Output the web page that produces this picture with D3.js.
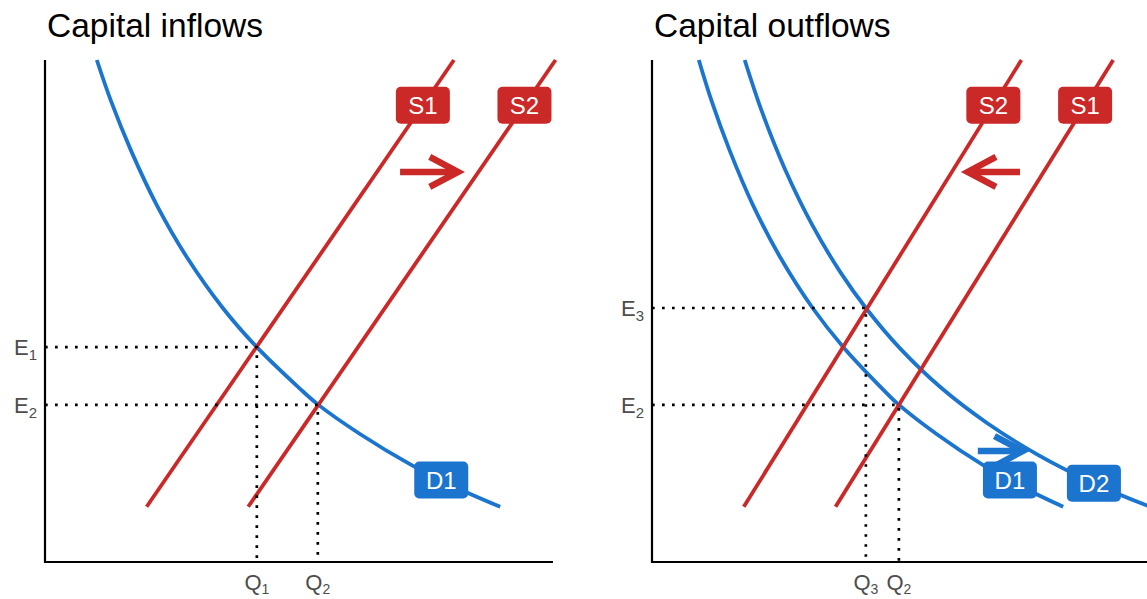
<!DOCTYPE html>
<html>
<head>
<meta charset="utf-8">
<script src="https://cdn.jsdelivr.net/npm/d3@7"></script>
<style>
  html, body { margin: 0; padding: 0; background: #fff; }
  svg { display: block; font-family: "Liberation Sans", Arial, sans-serif; }
</style>
</head>
<body>
<svg id="chart" width="1147" height="599"></svg>
<script>
// ---------- data ----------
const titles = ["Capital inflows", "Capital outflows"];

// demand curves (x = quantity, y = exchange rate)
const demand1 = [[1.02,10.0],[1.30,9.18],[1.70,8.18],[2.20,7.11],[2.80,6.06],[3.50,5.06],[4.17,4.28],
  [5.00,3.47],[5.37,3.14],[6.20,2.55],[7.20,1.94],[8.10,1.48],[8.96,1.10]];
const demand2 = [[2.02,10.0],[2.40,8.96],[2.90,7.82],[3.50,6.70],[4.10,5.78],[4.66,5.06],[5.40,4.26],
  [6.30,3.47],[7.30,2.77],[8.40,2.14],[9.60,1.58],[10.80,1.12],[11.07,1.03]];

// supply lines
const supplyLow  = [[2.00,1.10],[8.05,10]];
const supplyHigh = [[4.00,1.10],[10.05,10]];

// equilibria
const eqInflows  = [{e:"1", q:"1", x:4.17, y:4.28}, {e:"2", q:"2", x:5.37, y:3.13}];
const eqOutflows = [{e:"3", q:"3", x:4.66, y:5.06}, {e:"2", q:"2", x:5.38, y:3.13}];

// curve labels
const supplyLabelY = 9.10;
const demandLabelX = [7.80, 9.63];

// shift arrows [x1, x2, y]
const arrowInflowS  = [6.99, 8.13, 7.77];
const arrowOutflowS = [8.02, 6.88, 7.77];
const arrowOutflowD = [7.10, 8.08, 2.21];

// ---------- layout ----------
const BLUE = "#1b75cf", RED = "#cb2828";
const svg = d3.select("#chart");

const panels = [
  { x0: 45,  x1: 553,  xmax: 10.0 },
  { x0: 652, x1: 1160, xmax: 11.07 }
];
const yTop = 60, yBot = 562;

function makeScales(p) {
  return {
    x: d3.scaleLinear().domain([0, p.xmax]).range([p.x0, p.x1]),
    y: d3.scaleLinear().domain([0, 10]).range([yBot, yTop])
  };
}

function yOnCurve(curve, x) {
  for (let i = 0; i < curve.length - 1; i++) {
    const a = curve[i], b = curve[i+1];
    if (x >= a[0] && x <= b[0]) return a[1] + (b[1]-a[1])*(x-a[0])/(b[0]-a[0]);
  }
  return curve[curve.length-1][1];
}
function xOnLine(line, y) {
  const a = line[0], b = line[1];
  return a[0] + (b[0]-a[0])*(y-a[1])/(b[1]-a[1]);
}

function drawPanel(idx, demands, supplies, eqs, labels, arrows) {
  const p = panels[idx];
  const s = makeScales(p);
  const g = svg.append("g");

  // title
  g.append("text").attr("x", p.x0 + 2).attr("y", 37)
    .attr("font-size", 33.5).attr("fill", "#000").text(titles[idx]);

  // axes
  g.append("line").attr("x1", p.x0).attr("x2", p.x0).attr("y1", yTop).attr("y2", yBot + 1)
    .attr("stroke", "#000").attr("stroke-width", 2.2);
  g.append("line").attr("x1", p.x0 - 1).attr("x2", p.x1).attr("y1", yBot).attr("y2", yBot)
    .attr("stroke", "#000").attr("stroke-width", 2.2);

  const line = d3.line().x(d => s.x(d[0])).y(d => s.y(d[1]));
  const smooth = d3.line().x(d => s.x(d[0])).y(d => s.y(d[1])).curve(d3.curveCatmullRom.alpha(0.5));

  // demand curves
  demands.forEach(d => {
    g.append("path").attr("d", smooth(d.data)).attr("fill", "none")
      .attr("stroke", BLUE).attr("stroke-width", 3.8);
  });
  // supply lines
  supplies.forEach(d => {
    g.append("path").attr("d", line(d.data)).attr("fill", "none")
      .attr("stroke", RED).attr("stroke-width", 3.8);
  });

  // dotted guide lines
  eqs.forEach(e => {
    g.append("path")
      .attr("d", `M${s.x(0)},${s.y(e.y)}H${s.x(e.x)}V${s.y(0)}`)
      .attr("fill", "none").attr("stroke", "#000").attr("stroke-width", 2.7)
      .attr("stroke-dasharray", "2.7 7.3");
    const et = g.append("text").attr("x", p.x0 - 8).attr("y", s.y(e.y) + 8)
      .attr("text-anchor", "end").attr("font-size", 22).attr("fill", "#4d4d4d");
    et.append("tspan").text("E");
    et.append("tspan").attr("dy", 5).attr("font-size", 15).text(e.e);
    const qt = g.append("text").attr("x", s.x(e.x)).attr("y", 590)
      .attr("text-anchor", "middle").attr("font-size", 22).attr("fill", "#4d4d4d");
    qt.append("tspan").text("Q");
    qt.append("tspan").attr("dy", 4).attr("font-size", 14).text(e.q);
  });

  // arrows
  arrows.forEach(a => {
    const x1 = s.x(a.v[0]), x2 = s.x(a.v[1]), y = s.y(a.v[2]);
    const dir = Math.sign(x2 - x1);
    const L = 32, ang = 28 * Math.PI / 180;
    g.append("line").attr("x1", x1).attr("x2", x2 - dir*2).attr("y1", y).attr("y2", y)
      .attr("stroke", a.color).attr("stroke-width", 6.5);
    g.append("path")
      .attr("d", `M${x2 - dir*L*Math.cos(ang)},${y - L*Math.sin(ang)}L${x2},${y}L${x2 - dir*L*Math.cos(ang)},${y + L*Math.sin(ang)}`)
      .attr("fill", "none").attr("stroke", a.color).attr("stroke-width", 6.5)
      .attr("stroke-linejoin", "miter");
  });

  // labels
  labels.forEach(l => {
    const w = 54, h = 37;
    const lg = g.append("g").attr("transform", `translate(${s.x(l.x)},${s.y(l.y)})`);
    lg.append("rect").attr("x", -w/2).attr("y", -h/2).attr("width", w).attr("height", h)
      .attr("rx", 5).attr("fill", l.color);
    lg.append("text").attr("y", 8.5).attr("text-anchor", "middle").attr("font-size", 24)
      .attr("fill", "#fff").text(l.text);
  });
}

// ---------- panel 1: inflows ----------
drawPanel(0,
  [{data: demand1}],
  [{data: supplyLow}, {data: supplyHigh}],
  eqInflows,
  [
    {text: "S1", x: xOnLine(supplyLow, supplyLabelY),  y: supplyLabelY, color: RED},
    {text: "S2", x: xOnLine(supplyHigh, supplyLabelY), y: supplyLabelY, color: RED},
    {text: "D1", x: demandLabelX[0], y: yOnCurve(demand1, demandLabelX[0]), color: BLUE}
  ],
  [{v: arrowInflowS, color: RED}]
);

// ---------- panel 2: outflows ----------
drawPanel(1,
  [{data: demand1}, {data: demand2}],
  [{data: supplyLow}, {data: supplyHigh}],
  eqOutflows,
  [
    {text: "S2", x: xOnLine(supplyLow, supplyLabelY),  y: supplyLabelY, color: RED},
    {text: "S1", x: xOnLine(supplyHigh, supplyLabelY), y: supplyLabelY, color: RED},
    {text: "D1", x: demandLabelX[0], y: yOnCurve(demand1, demandLabelX[0]), color: BLUE},
    {text: "D2", x: demandLabelX[1], y: yOnCurve(demand2, demandLabelX[1]), color: BLUE}
  ],
  [{v: arrowOutflowS, color: RED}, {v: arrowOutflowD, color: BLUE}]
);
</script>
</body>
</html>
